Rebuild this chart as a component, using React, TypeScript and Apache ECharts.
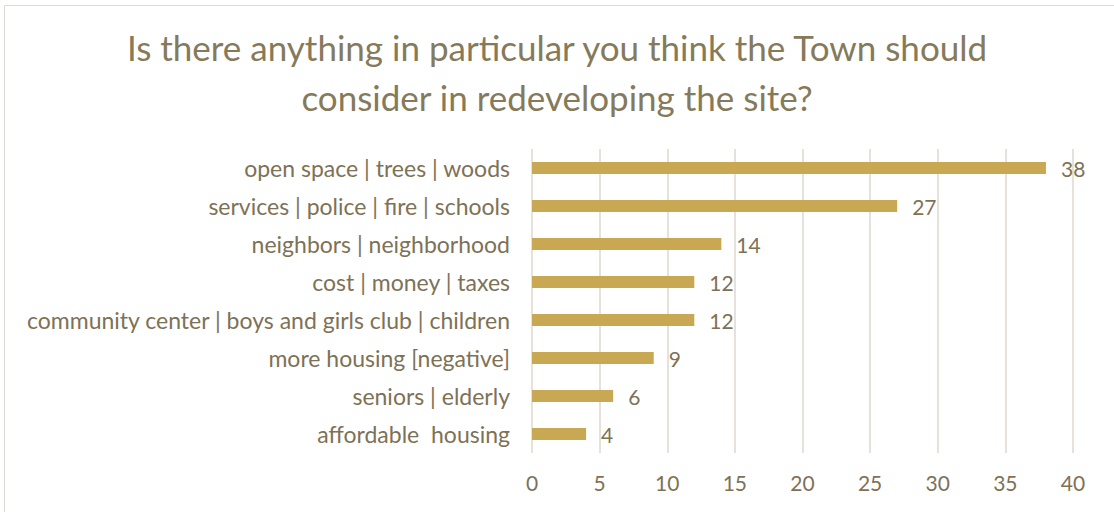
import React, { useEffect, useRef } from "react";
import * as echarts from "echarts";

const categories = [
  "open space | trees | woods",
  "services | police | fire | schools",
  "neighbors | neighborhood",
  "cost | money | taxes",
  "community center | boys and girls club | children",
  "more housing [negative]",
  "seniors | elderly",
  "affordable  housing",
];
const values = [38, 27, 14, 12, 12, 9, 6, 4];
const xTicks = { min: 0, max: 40, interval: 5 };
const titleText = "Is there anything in particular you think the Town should\nconsider in redeveloping the site?";

const FONT = "Lato";
const TEXT = "#7d7256";

export default function App() {
  const ref = useRef<HTMLDivElement>(null);
  useEffect(() => {
    if (!ref.current) return;
    const chart = echarts.init(ref.current, null, { renderer: "svg" });
    chart.setOption({
      animation: false,
      backgroundColor: "#ffffff",
      title: {
        text: titleText,
        left: "center",
        top: 17,
        textStyle: {
          fontFamily: FONT,
          fontSize: 35,
          fontWeight: "normal",
          color: "#857a5a",
          lineHeight: 50,
        },
      },
      graphic: [
        {
          type: "rect",
          shape: { x: 4.5, y: 5.5, width: 1120, height: 520 },
          style: { fill: "none", stroke: "#dcdad4", lineWidth: 1 },
          silent: true,
        },
      ],
      grid: { left: 532, right: 41, top: 149, bottom: 59, containLabel: false },
      xAxis: {
        type: "value",
        min: xTicks.min,
        max: xTicks.max,
        interval: xTicks.interval,
        axisLine: { show: false },
        axisTick: { show: false },
        axisLabel: { color: TEXT, fontFamily: FONT, fontSize: 21, margin: 19 },
        splitLine: { show: true, lineStyle: { color: "#e6e2d9", width: 2 } },
      },
      yAxis: {
        type: "category",
        inverse: true,
        data: categories,
        axisLine: { show: false },
        axisTick: { show: false },
        axisLabel: { color: TEXT, fontFamily: FONT, fontSize: 23, margin: 22 },
      },
      series: [
        {
          type: "bar",
          data: values,
          barWidth: 12,
          itemStyle: { color: "#c9a853" },
          label: {
            show: true,
            position: "right",
            distance: 15,
            color: TEXT,
            fontFamily: FONT,
            fontSize: 21,
          },
        },
      ],
    });
    return () => chart.dispose();
  }, []);
  return <div ref={ref} style={{ width: 1114, height: 512, position: "absolute", left: 0, top: 0 }} />;
}
